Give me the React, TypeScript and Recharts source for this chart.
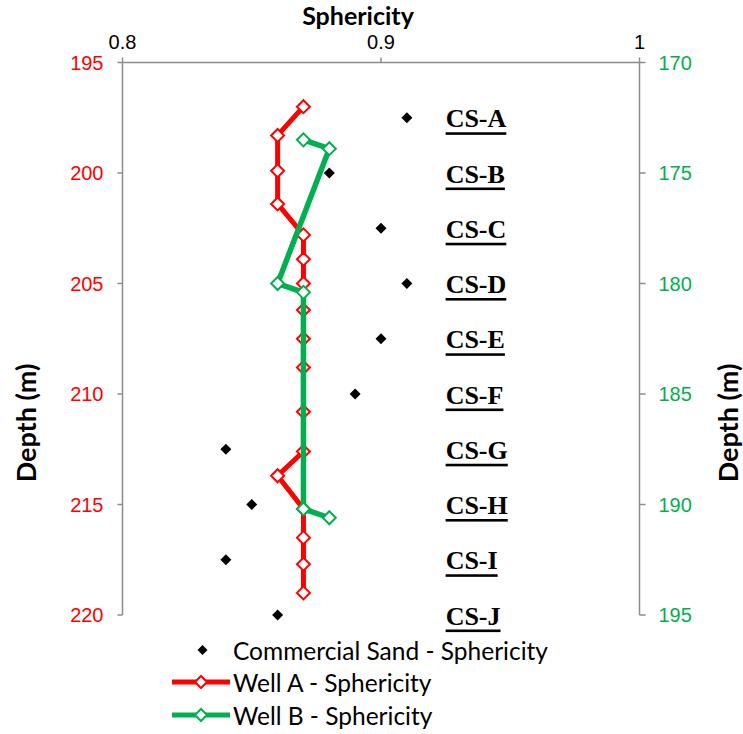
import { ComposedChart, Scatter, XAxis, YAxis } from "recharts";

// commercial sand samples (left depth axis)
const SAND_NAMES = ["CS-A", "CS-B", "CS-C", "CS-D", "CS-E", "CS-F", "CS-G", "CS-H", "CS-I", "CS-J"];
const SAND_SPHERICITY = [0.91, 0.88, 0.9, 0.91, 0.9, 0.89, 0.84, 0.85, 0.84, 0.86];
const SAND_DEPTH = [197.5, 200, 202.5, 205, 207.5, 210, 212.5, 215, 217.5, 220];

// Well A (left depth axis)
const WELL_A_SPHERICITY = [0.87, 0.86, 0.86, 0.86, 0.87, 0.87, 0.87, 0.87, 0.87, 0.87, 0.87, 0.87, 0.86, 0.87, 0.87, 0.87, 0.87];
const WELL_A_DEPTH = [197.0, 198.3, 199.9, 201.4, 202.8, 203.9, 205.0, 206.2, 207.5, 208.8, 210.8, 212.6, 213.7, 215.2, 216.5, 217.7, 219.0];

// Well B (right depth axis)
const WELL_B_SPHERICITY = [0.87, 0.88, 0.86, 0.87, 0.87, 0.88];
const WELL_B_DEPTH = [173.5, 173.9, 180.0, 180.4, 190.2, 190.6];

const X_TICKS = [0.8, 0.9, 1];
const LEFT_TICKS = [195, 200, 205, 210, 215, 220];
const RIGHT_TICKS = [170, 175, 180, 185, 190, 195];
const LABEL_X = 0.925;

const RED = "#FF0000";
const GREEN = "#00B050";
const GRAY = "#8C8C8C";
const SANS = "Lato, 'Liberation Sans', sans-serif";

const sandData = SAND_NAMES.map((name, i) => ({ s: SAND_SPHERICITY[i], d: SAND_DEPTH[i], name }));
const labelData = SAND_NAMES.map((name, i) => ({ s: LABEL_X, d: SAND_DEPTH[i], name }));
const wellA = WELL_A_DEPTH.map((d, i) => ({ s: WELL_A_SPHERICITY[i], d }));
const wellB = WELL_B_DEPTH.map((d, i) => ({ s: WELL_B_SPHERICITY[i], d }));

const diamondPath = (cx: number, cy: number, r: number) =>
  `M${cx},${cy - r}L${cx + r},${cy}L${cx},${cy + r}L${cx - r},${cy}Z`;

const makeDiamond = (stroke: string, fill: string, r: number, sw: number) => (props: any) => {
  const { cx, cy } = props;
  if (cx == null || cy == null) return <g />;
  return <path d={diamondPath(cx, cy, r)} fill={fill} stroke={stroke} strokeWidth={sw} />;
};

const SandLabel = (props: any) => {
  const { cx, cy, payload } = props;
  if (cx == null || cy == null) return <g />;
  return (
    <text
      x={cx}
      y={cy + 1}
      dominantBaseline="central"
      fontFamily="'Liberation Serif', 'Times New Roman', serif"
      fontWeight={700}
      fontSize={26}
      fill="#000"
      style={{ textDecoration: "underline", textDecorationThickness: "3px" } as any}
    >
      {payload.name}
    </text>
  );
};

const tickStyle = (fill: string) => ({ fill, fontSize: 20, fontFamily: "'Liberation Sans', Arial, sans-serif" });

export default function App() {
  return (
    <div style={{ position: "absolute", left: 0, top: 0, width: 743, height: 734, background: "#fff" }}>
      <ComposedChart width={743} height={734} margin={{ top: 0, right: 0, bottom: 119, left: 0 }}>
        <XAxis
          type="number"
          dataKey="s"
          orientation="top"
          domain={[0.8, 1]}
          ticks={X_TICKS}
          height={62.5}
          tickSize={5}
          tickMargin={9}
          tick={tickStyle("#000")}
          axisLine={{ stroke: GRAY, strokeWidth: 1.5 }}
          tickLine={{ stroke: GRAY, strokeWidth: 1.5 }}
        />
        <YAxis
          yAxisId="left"
          type="number"
          dataKey="d"
          domain={[195, 220]}
          ticks={LEFT_TICKS}
          reversed
          width={122.5}
          tickSize={5}
          tickMargin={14}
          tick={tickStyle(RED)}
          axisLine={{ stroke: GRAY, strokeWidth: 1.5 }}
          tickLine={{ stroke: GRAY, strokeWidth: 1.5 }}
        />
        <YAxis
          yAxisId="right"
          orientation="right"
          type="number"
          dataKey="d"
          domain={[170, 195]}
          ticks={RIGHT_TICKS}
          reversed
          width={103.5}
          tickSize={6}
          tickMargin={13}
          tick={tickStyle(GREEN)}
          axisLine={{ stroke: GRAY, strokeWidth: 1.5 }}
          tickLine={{ stroke: GRAY, strokeWidth: 1.5 }}
        />
        <Scatter
          yAxisId="left"
          data={sandData}
          shape={makeDiamond("#000", "#000", 5.5, 0)}
          isAnimationActive={false}
        />
        <Scatter yAxisId="left" data={labelData} shape={SandLabel} isAnimationActive={false} />
        <Scatter
          yAxisId="left"
          data={wellA}
          line={{ stroke: RED, strokeWidth: 5 }}
          lineJointType="linear"
          shape={makeDiamond(RED, "#fff", 6.5, 2)}
          isAnimationActive={false}
        />
        <Scatter
          yAxisId="right"
          data={wellB}
          line={{ stroke: GREEN, strokeWidth: 5.5 }}
          lineJointType="linear"
          shape={makeDiamond(GREEN, "#fff", 6.5, 2)}
          isAnimationActive={false}
        />
      </ComposedChart>

      <svg
        width={743}
        height={734}
        style={{ position: "absolute", left: 0, top: 0, pointerEvents: "none" }}
      >
        <text x={358} y={25} textAnchor="middle" fontFamily={SANS} fontWeight={700} fontSize={25} fill="#000">
          Sphericity
        </text>
        <text
          transform="translate(25,423) rotate(-90)"
          textAnchor="middle"
          dominantBaseline="central"
          fontFamily={SANS}
          fontWeight={700}
          fontSize={27}
          fill="#000"
        >
          Depth (m)
        </text>
        <text
          transform="translate(727,423) rotate(-90)"
          textAnchor="middle"
          dominantBaseline="central"
          fontFamily={SANS}
          fontWeight={700}
          fontSize={27}
          fill="#000"
        >
          Depth (m)
        </text>

        {/* legend */}
        <path d={diamondPath(202.5, 650, 5)} fill="#000" />
        <text x={233} y={650} dominantBaseline="central" fontFamily={SANS} fontSize={24.5} fill="#000">
          Commercial Sand - Sphericity
        </text>
        <line x1={172} y1={682} x2={230} y2={682} stroke={RED} strokeWidth={5} />
        <path d={diamondPath(201, 682, 6)} fill="#fff" stroke={RED} strokeWidth={2} />
        <text x={233} y={682} dominantBaseline="central" fontFamily={SANS} fontSize={24.5} fill="#000">
          Well A - Sphericity
        </text>
        <line x1={172} y1={715} x2={230} y2={715} stroke={GREEN} strokeWidth={5} />
        <path d={diamondPath(201, 715, 6)} fill="#fff" stroke={GREEN} strokeWidth={2} />
        <text x={233} y={715} dominantBaseline="central" fontFamily={SANS} fontSize={24.5} fill="#000">
          Well B - Sphericity
        </text>
      </svg>
    </div>
  );
}
